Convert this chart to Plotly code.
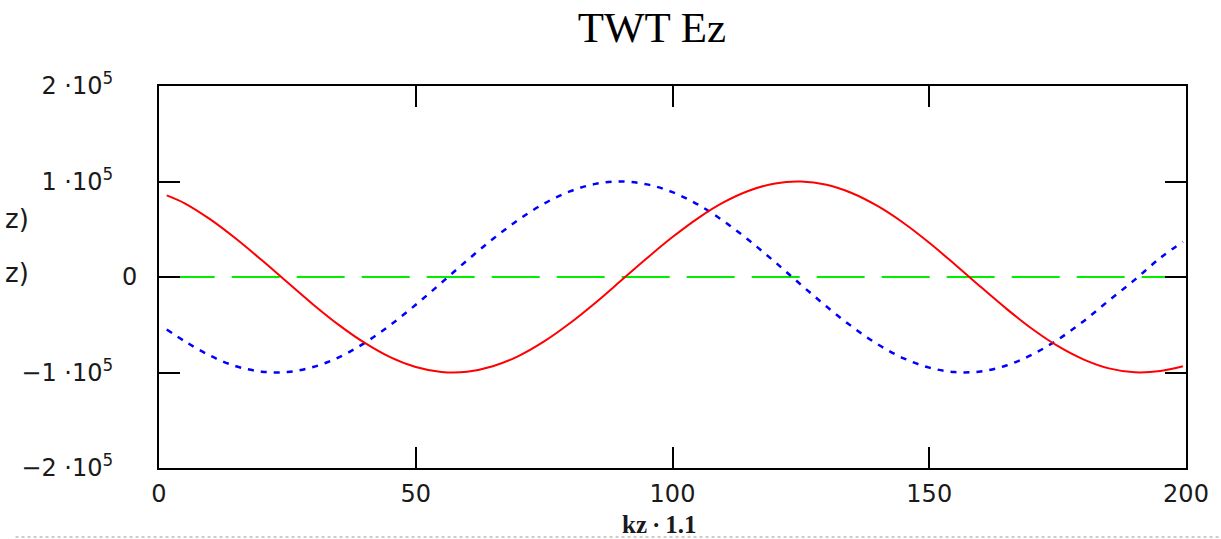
import plotly.graph_objects as go

# x positions (kz*1.1) and values
x_vals = [1.5, 5, 10, 15, 20, 25, 30, 35, 40, 45, 50, 55, 60, 65, 70, 75, 80, 85, 90, 95,
          100, 105, 110, 115, 120, 125, 130, 135, 140, 145, 150, 155, 160, 165, 170, 175,
          180, 185, 190, 195, 199.4]

red_vals = [0.855, 0.772, 0.603, 0.400, 0.177, -0.056, -0.287, -0.501, -0.688, -0.839,
            -0.942, -0.994, -0.992, -0.935, -0.828, -0.675, -0.485, -0.269, -0.037, 0.196,
            0.418, 0.617, 0.783, 0.906, 0.980, 0.999, 0.965, 0.877, 0.741, 0.565,
            0.358, 0.131, -0.103, -0.331, -0.542, -0.722, -0.862, -0.957, -0.998, -0.985,
            -0.935]

blue_vals = [-0.55, -0.672, -0.825, -0.934, -0.991, -0.995, -0.943, -0.841, -0.692, -0.505,
             -0.291, -0.061, 0.174, 0.397, 0.599, 0.769, 0.896, 0.975, 1.000, 0.970,
             0.888, 0.757, 0.584, 0.379, 0.155, -0.080, -0.309, -0.521, -0.706, -0.851,
             -0.949, -0.996, -0.989, -0.927, -0.814, -0.657, -0.465, -0.245, -0.030, 0.200,
             0.37]

green_vals = [0.0] * len(x_vals)

scale = 1e5

y_tickvals = [2e5, 1e5, 0, -1e5, -2e5]
y_ticktext = ["2 ·10<sup>5</sup>\u2003", "1 ·10<sup>5</sup>\u2003", "0",
              "\u22121 ·10<sup>5</sup>\u2003", "\u22122 ·10<sup>5</sup>\u2003"]
x_tickvals = [0, 50, 100, 150, 200]
x_ticktext = ["0", "50", "100", "150", "200"]

W, H = 1221, 539
L, R, T, B = 159, 31, 86, 71
ph = H - T - B
pw = W - L - R

def py(pix):
    return (H - B - pix) / ph

def px(pix):
    return (pix - L) / pw

fig = go.Figure()
fig.add_trace(go.Scatter(x=x_vals, y=[v * scale for v in green_vals], mode="lines",
                         line=dict(color="#00ee00", width=2, dash="48px,17px"),
                         hoverinfo="skip"))
fig.add_trace(go.Scatter(x=x_vals, y=[v * scale for v in blue_vals], mode="lines",
                         line=dict(color="#0000ff", width=2.5, dash="6px,7px"),
                         line_shape="spline", hoverinfo="skip"))
fig.add_trace(go.Scatter(x=x_vals, y=[v * scale for v in red_vals], mode="lines",
                         line=dict(color="#ff0000", width=2),
                         line_shape="spline", hoverinfo="skip"))

axis_common = dict(showline=True, linecolor="black", linewidth=2, mirror="allticks",
                   ticks="inside", ticklen=21, tickwidth=2, tickcolor="black",
                   showgrid=False, zeroline=False,
                   tickfont=dict(family="DejaVu Sans", size=24, color="#1a1a1a"))

fig.update_xaxes(range=[0, 200], tickvals=x_tickvals, ticktext=x_ticktext,
                 ticklabelstandoff=3, **axis_common)
fig.update_yaxes(range=[-2e5, 2e5], tickvals=y_tickvals, ticktext=y_ticktext,
                 ticklabelstandoff=15, **axis_common)

fig.update_layout(
    width=W, height=H,
    margin=dict(l=L, r=R, t=T, b=B, pad=0),
    paper_bgcolor="white", plot_bgcolor="white",
    showlegend=False,
    title=dict(text="TWT Ez", x=652 / W, xanchor="center", xref="container",
               y=1 - 27 / H, yanchor="middle", yref="container",
               font=dict(family="Liberation Serif", size=43, color="black")),
)

fig.add_annotation(text="<b>kz\u2009·\u20091.1</b>", xref="paper", yref="paper",
                   x=px(661), y=py(524), xanchor="center", yanchor="middle",
                   showarrow=False,
                   font=dict(family="Liberation Serif", size=25, color="#1a1a1a"))
for ypix in (219, 273):
    fig.add_annotation(text="z)", xref="paper", yref="paper",
                       x=px(31), y=py(ypix), xanchor="right",
                       yanchor="middle", showarrow=False,
                       font=dict(family="DejaVu Sans", size=26, color="#1a1a1a"))

fig.add_shape(type="line", xref="paper", yref="paper",
              x0=px(15), x1=px(W + 10),
              y0=py(537), y1=py(537),
              line=dict(color="#cccccc", width=2, dash="dot"))

fig.write_html("out.html")
